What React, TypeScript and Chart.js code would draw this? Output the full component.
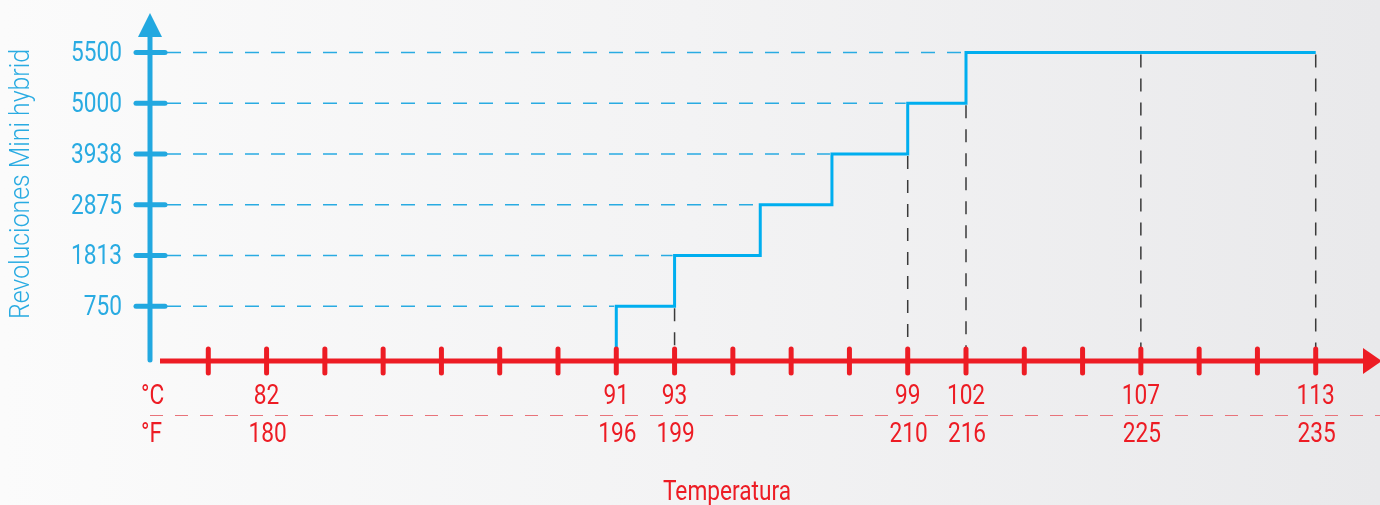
import { useEffect, useRef } from 'react';
import Chart from 'chart.js/auto';

// ---- data ----
const rpmLabels = ['750', '1813', '2875', '3938', '5000', '5500'];
const rpmLevels = [1, 2, 3, 4, 5, 6];
const tickIndices = [0, 1, 2, 3, 4, 5, 6, 7, 8, 9, 10, 11, 12, 13, 14, 15, 16, 17, 18, 19];
const labeledTicks = [1, 7, 8, 12, 13, 16, 19];
const celsiusLabels = ['82', '91', '93', '99', '102', '107', '113'];
const fahrenheitLabels = ['180', '196', '199', '210', '216', '225', '235'];
const stepX = [7, 8, 9.47, 10.7, 12, 13, 19];
const stepLevel = [0, 1, 2, 3, 4, 5, 6];
const yTitle = 'Revoluciones Mini hybrid';
const xTitle = 'Temperatura';
const unitC = '°C';
const unitF = '°F';

// ---- style ----
const FONT = '400 27px Roboto, "DejaVu Sans Condensed", sans-serif';
const TITLE_FONT = '300 27px Roboto, "DejaVu Sans Condensed", sans-serif';
const AXIS_BLUE = '#22a8e0';
const LINE_BLUE = '#00aeef';
const RED = '#ed1c24';

function levelAt(x: number): number {
  const i = stepX.findIndex((s) => s >= x);
  return i < 0 ? 0 : stepLevel[i];
}

function text(ctx: any, s: string, x: number, y: number, align: string, sx = 0.84) {
  ctx.save();
  ctx.translate(x, y);
  ctx.scale(sx, 1);
  ctx.textAlign = align;
  ctx.fillText(s, 0, 0);
  ctx.restore();
}

const decor = {
  id: 'decor',
  beforeDraw(chart: any) {
    const { ctx, width, height } = chart;
    ctx.save();
    const g = ctx.createLinearGradient(0, 0, width, 0);
    g.addColorStop(0, '#fbfbfb');
    g.addColorStop(0.5, '#f3f3f4');
    g.addColorStop(1, '#e9e9eb');
    ctx.fillStyle = g;
    ctx.fillRect(0, 0, width, height);
    ctx.restore();
  },
  beforeDatasetsDraw(chart: any) {
    const { ctx } = chart;
    const xs = chart.scales.x;
    const ys = chart.scales.y;
    const axisX = xs.getPixelForValue(-1);
    const axisY = ys.getPixelForValue(0) + 4;
    ctx.save();
    // blue dashed horizontals
    ctx.strokeStyle = '#29abe2';
    ctx.lineWidth = 1.5;
    ctx.setLineDash([14, 12]);
    rpmLevels.forEach((lvl) => {
      const i = stepLevel.findIndex((l, k) => k + 1 < stepLevel.length && stepLevel[k + 1] === lvl);
      const endX = xs.getPixelForValue(stepX[i]);
      const y = ys.getPixelForValue(lvl);
      ctx.beginPath();
      ctx.moveTo(axisX + 17, y);
      ctx.lineTo(endX - 2, y);
      ctx.stroke();
    });
    // black dashed verticals
    ctx.strokeStyle = '#3a3a3a';
    ctx.lineWidth = 1.5;
    ctx.setLineDash([13, 11]);
    labeledTicks.forEach((t) => {
      const lvl = levelAt(t);
      if (lvl <= 0) return;
      const x = xs.getPixelForValue(t);
      const y = ys.getPixelForValue(lvl);
      ctx.beginPath();
      ctx.moveTo(x, y + 2);
      ctx.lineTo(x, axisY - 14);
      ctx.stroke();
    });
    ctx.restore();
  },
  afterDatasetsDraw(chart: any) {
    const { ctx, width } = chart;
    const xs = chart.scales.x;
    const ys = chart.scales.y;
    const axisX = xs.getPixelForValue(-1);
    const axisY = ys.getPixelForValue(0) + 4;
    ctx.save();
    ctx.setLineDash([]);
    // blue y axis
    ctx.strokeStyle = AXIS_BLUE;
    ctx.fillStyle = AXIS_BLUE;
    ctx.lineWidth = 5;
    ctx.lineCap = 'round';
    ctx.beginPath();
    ctx.moveTo(axisX, axisY - 1);
    ctx.lineTo(axisX, 36);
    ctx.stroke();
    ctx.beginPath();
    ctx.moveTo(axisX, 13);
    ctx.lineTo(axisX + 12, 37);
    ctx.lineTo(axisX - 12, 37);
    ctx.closePath();
    ctx.fill();
    rpmLevels.forEach((lvl) => {
      const y = ys.getPixelForValue(lvl);
      ctx.beginPath();
      ctx.moveTo(axisX - 14, y);
      ctx.lineTo(axisX + 15, y);
      ctx.stroke();
    });
    // y labels
    ctx.font = FONT;
    ctx.textBaseline = 'middle';
    ctx.fillStyle = '#29abe2';
    rpmLevels.forEach((lvl, i) => {
      text(ctx, rpmLabels[i], axisX - 28, ys.getPixelForValue(lvl) + 2, 'right');
    });
    // y title
    ctx.save();
    ctx.font = TITLE_FONT;
    ctx.translate(22, 184);
    ctx.rotate(-Math.PI / 2);
    text(ctx, yTitle, 0, 0, 'center', 0.92);
    ctx.restore();

    // red x axis
    ctx.strokeStyle = RED;
    ctx.fillStyle = RED;
    ctx.lineWidth = 5;
    ctx.lineCap = 'butt';
    ctx.beginPath();
    ctx.moveTo(axisX + 10, axisY);
    ctx.lineTo(width - 16, axisY);
    ctx.stroke();
    ctx.beginPath();
    ctx.moveTo(width + 2, axisY);
    ctx.lineTo(width - 17, axisY - 13);
    ctx.lineTo(width - 17, axisY + 13);
    ctx.closePath();
    ctx.fill();
    ctx.lineCap = 'round';
    tickIndices.forEach((t) => {
      const x = xs.getPixelForValue(t);
      ctx.beginPath();
      ctx.moveTo(x, axisY - 12);
      ctx.lineTo(x, axisY + 12);
      ctx.stroke();
    });
    // separator
    ctx.strokeStyle = '#e8737a';
    ctx.lineWidth = 1;
    ctx.lineCap = 'butt';
    ctx.setLineDash([13, 12]);
    ctx.beginPath();
    ctx.moveTo(axisX, axisY + 54.5);
    ctx.lineTo(width, axisY + 54.5);
    ctx.stroke();
    ctx.setLineDash([]);
    // x labels
    ctx.font = FONT;
    ctx.textBaseline = 'middle';
    text(ctx, unitC, axisX - 9, axisY + 36, 'left');
    text(ctx, unitF, axisX - 9, axisY + 74, 'left');
    labeledTicks.forEach((t, i) => {
      const x = xs.getPixelForValue(t);
      text(ctx, celsiusLabels[i], x, axisY + 36, 'center');
      text(ctx, fahrenheitLabels[i], x + 1, axisY + 74, 'center');
    });
    // x title
    ctx.textBaseline = 'alphabetic';
    text(ctx, xTitle, xs.getPixelForValue(8.9), 500, 'center');
    ctx.restore();
  },
};

export default function App() {
  const ref = useRef<HTMLCanvasElement>(null);
  useEffect(() => {
    document.body.style.margin = '0';
    const canvas = ref.current!;
    const chart = new Chart(canvas, {
      type: 'line',
      data: {
        datasets: [
          {
            data: stepX.map((x, i) => ({ x, y: stepLevel[i] })),
            stepped: 'after',
            borderColor: LINE_BLUE,
            borderWidth: 3,
            pointRadius: 0,
            fill: false,
          } as any,
        ],
      },
      options: {
        responsive: false,
        animation: false,
        events: [],
        layout: { padding: { left: 150, right: 6, top: 12, bottom: 148 } },
        scales: {
          x: { type: 'linear', display: false, min: -1, max: 20 },
          y: { type: 'linear', display: false, min: 0, max: 6.8 },
        },
        plugins: { legend: { display: false }, tooltip: { enabled: false } },
      },
      plugins: [decor],
    });
    return () => chart.destroy();
  }, []);
  return <canvas ref={ref} width={1380} height={505} style={{ display: 'block' }} />;
}
